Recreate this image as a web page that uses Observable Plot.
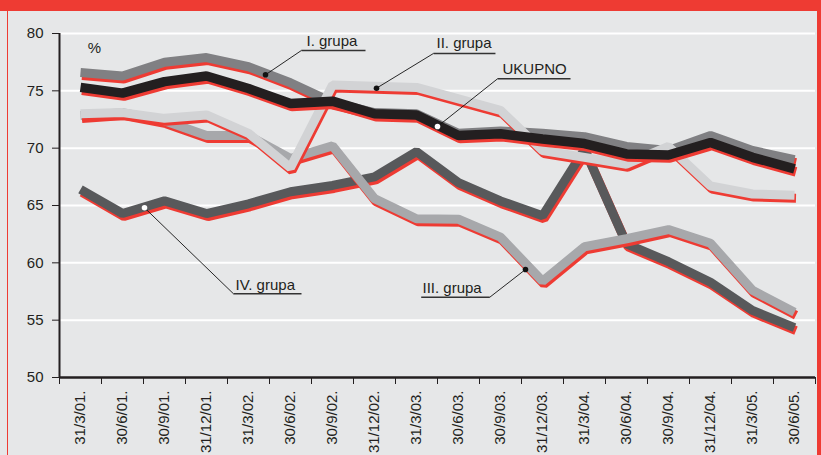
<!DOCTYPE html>
<html>
<head>
<meta charset="utf-8">
<script src="https://cdn.jsdelivr.net/npm/d3@7"></script>
<script src="https://cdn.jsdelivr.net/npm/@observablehq/plot@0.6"></script>
<style>
  html, body { margin: 0; padding: 0; background: #e6e7e8; }
  #wrap { position: relative; width: 821px; height: 455px; overflow: hidden; background: #e6e7e8; font-family: "Liberation Sans", Arial, sans-serif; }
  #wrap svg { position: absolute; left: 0; top: 0; }
  .bar { position: absolute; left: 0; top: 0; width: 821px; height: 11px; background: #ee3b33; }
  .lborder { position: absolute; left: 7px; top: 0; width: 1px; height: 455px; background: #ee3b33; }
  .rborder { position: absolute; left: 817px; top: 0; width: 4px; height: 455px; background: #ee3b33; }
</style>
</head>
<body>
<div id="wrap"><div class="bar"></div><div class="lborder"></div><div class="rborder"></div></div>
<script>
// ---- data ----
const dates = ["31/3/01.","30/6/01.","30/9/01.","31/12/01.","31/3/02.","30/6/02.","30/9/02.","31/12/02.","31/3/03.","30/6/03.","30/9/03.","31/12/03.","31/3/04.","30/6/04.","30/9/04.","31/12/04.","31/3/05.","30/6/05."];
const grupaI   = [76.6,76.3,77.5,77.9,77.1,75.7,74.0,73.1,73.0,71.3,71.5,71.3,71.0,70.15,69.8,71.1,69.8,69.0];
const grupaII  = [73.0,73.1,72.6,72.9,71.3,68.3,75.5,75.4,75.3,74.3,73.3,69.8,69.2,68.6,70.15,66.7,66.0,65.9];
const grupaIII = [72.85,73.1,72.4,71.1,71.1,69.1,70.2,65.6,63.85,63.8,62.25,58.4,61.4,62.1,62.9,61.7,57.6,55.7];
const grupaIV  = [66.4,64.3,65.4,64.3,65.15,66.2,66.75,67.5,69.7,67.0,65.4,64.1,69.9,61.65,60.1,58.3,55.85,54.35];
const ukupno   = [75.3,74.8,75.8,76.3,75.2,73.9,74.1,73.0,72.9,71.1,71.25,70.8,70.4,69.5,69.4,70.5,69.2,68.2];
const yTicks = [50,55,60,65,70,75,80];
const gridValues = [55,60,65,70,75,80];

// annotation labels (data coordinates: x = category index, y = %)
const labelNames = ["I. grupa","II. grupa","UKUPNO","III. grupa","IV. grupa"];
const labelX  = [5.38, 8.476, 10.048, 8.143, 3.69];
const labelY  = [79.35, 79.13, 76.86, 57.83, 58.04];
const underX1 = [5.26, 8.405, 9.93, 8.112, 3.643];
const underX2 = [6.786, 9.88, 11.667, 9.745, 5.262];
const underY  = [78.52, 78.26, 76.05, 57.00, 57.30];
const leaderX = [5.26, 8.405, 9.93, 9.745, 3.643];
const dotX    = [4.405, 7.048, 8.5, 10.595, 1.524];
const dotY    = [76.40, 75.23, 71.89, 59.42, 64.80];
const pctX = 0.333, pctY = 78.69;

// ---- styles ----
const RED = "#ee3b33";
const INK = "#231f20";
const seriesOrder = [
  {values: grupaIV,  color: "#58595b", w: 9},
  {values: grupaIII, color: "#a7a8ab", w: 9},
  {values: grupaI,   color: "#808083", w: 9},
  {values: grupaII,  color: "#d2d3d5", w: 9},
  {values: ukupno,   color: INK,       w: 9.5}
];
const dotFills = ["#111", "#111", "#fff", "#111", "#fff"];

const ann = labelNames.map((t, k) => ({
  t, x: labelX[k], y: labelY[k], ux1: underX1[k], ux2: underX2[k], uy: underY[k],
  lx: leaderX[k], dx: dotX[k], dy: dotY[k], fill: dotFills[k]
}));

const marks = [
  Plot.ruleY(gridValues, {stroke: "#fff", strokeWidth: 2})
];
for (const s of seriesOrder) {
  const rows = s.values.map((v, i) => ({i, v}));
  marks.push(Plot.line(rows, {x: "i", y: "v", stroke: RED, strokeWidth: s.w, dx: 1.5, dy: 3, strokeLinejoin: "miter", strokeLinecap: "butt"}));
  marks.push(Plot.line(rows, {x: "i", y: "v", stroke: s.color, strokeWidth: s.w, strokeLinejoin: "miter", strokeLinecap: "butt"}));
}
marks.push(
  Plot.ruleY([50], {stroke: INK, strokeWidth: 2.5}),
  Plot.ruleX([-0.5], {y1: 50, y2: 80, stroke: INK, strokeWidth: 2}),
  Plot.axisY({ticks: yTicks, tickSize: 7, tickPadding: 9, fontSize: 15, label: null, color: INK, stroke: INK}),
  Plot.axisX({ticks: d3.range(-0.5, 18, 1), tickFormat: () => "", tickSize: 7, label: null, stroke: INK}),
  Plot.axisX({ticks: d3.range(0, 18, 1), tickFormat: i => dates[i], tickSize: 0, tickPadding: 13, tickRotate: -90, fontSize: 15, label: null, color: INK}),
  Plot.link(ann, {x1: "ux1", x2: "ux2", y1: "uy", y2: "uy", stroke: "#333", strokeWidth: 1.4}),
  Plot.link(ann, {x1: "lx", y1: "uy", x2: "dx", y2: "dy", stroke: "#111", strokeWidth: 0.9}),
  Plot.dot(ann, {x: "dx", y: "dy", r: 2.8, fill: "fill", stroke: "none"}),
  Plot.text(ann, {x: "x", y: "y", text: "t", textAnchor: "start", fontSize: 15, fill: INK}),
  Plot.text([{x: pctX, y: pctY}], {x: "x", y: "y", text: () => "%", fontSize: 15, fill: INK})
);

const chart = Plot.plot({
  width: 821,
  height: 455,
  marginLeft: 59,
  marginRight: 6,
  marginTop: 33,
  marginBottom: 78,
  x: {domain: [-0.5, 17.5], axis: null},
  y: {domain: [50, 80], axis: null},
  style: {background: "transparent", fontFamily: "'Liberation Sans', Arial, sans-serif", overflow: "visible"},
  marks
});
document.getElementById("wrap").appendChild(chart);
</script>
</body>
</html>
